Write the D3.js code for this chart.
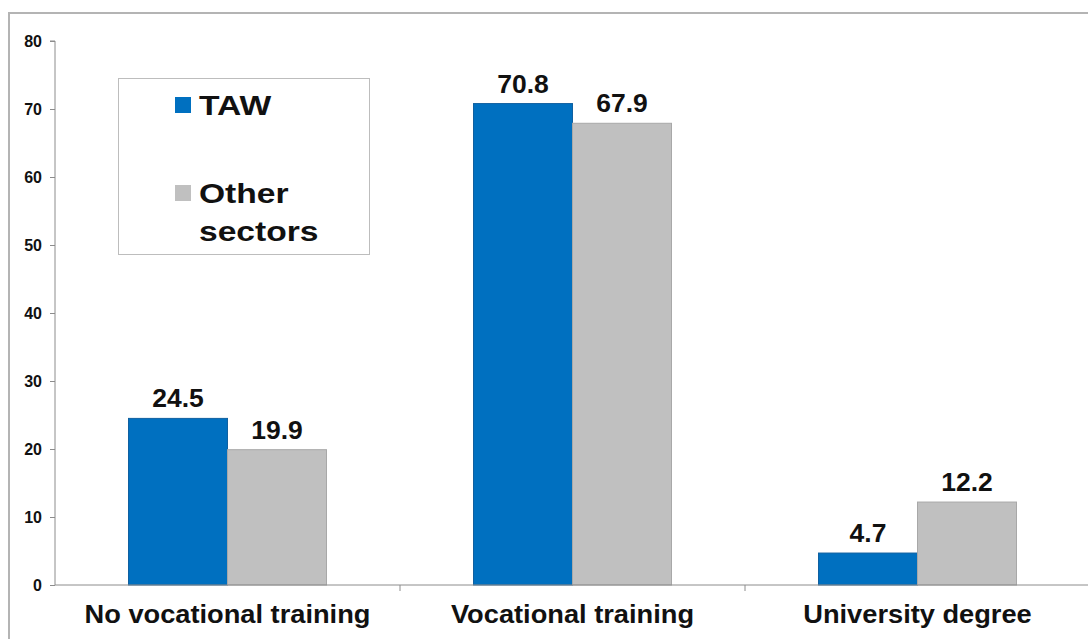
<!DOCTYPE html>
<html>
<head>
<meta charset="utf-8">
<script src="https://cdn.jsdelivr.net/npm/d3@7"></script>
<style>
  body { margin: 0; background: #fff; }
  svg { display: block; font-family: "Liberation Sans", Arial, sans-serif; }
</style>
</head>
<body>
<div id="chart"></div>
<script>

// data
var categories = ["No vocational training", "Vocational training", "University degree"];
var series = ["TAW", "Other sectors"];
var tawValues = [24.5, 70.8, 4.7];
var otherValues = [19.9, 67.9, 12.2];
var yTicks = [0, 10, 20, 30, 40, 50, 60, 70, 80];

var w = 1088;
var h = 639;
var margin = {left: 55, top: 41, bottom: 54};
var colors = ["#0070C0", "#C0C0C0"];
var strokes = ["#1060a0", "#a8a8a8"];

//helper: place text with a slight horizontal stretch (source font is wider)
var place = (px, py, sx) => "translate(" + px + "," + py + ") scale(" + sx + ",1)";

var svg = d3.select("#chart")
    .append("svg")
    .attr("width", w)
    .attr("height", h);

// outer frame (runs off the right and bottom edges)
svg.append("rect")
    .attr("x", 9)
    .attr("y", 13)
    .attr("width", w + 20)
    .attr("height", h + 20)
    .style("fill", "white")
    .style("stroke", "#b4b4b4")
    .style("stroke-width", 2);

//Scales
var x = d3.scaleBand()
    .domain(categories)
    .range([margin.left, margin.left + 345 * 3]);

var xInner = d3.scaleBand()
    .domain(series)
    .range([0, 198]);

var y = d3.scaleLinear()
    .domain([0, 80])
    .range([h - margin.bottom, margin.top]);

//Y axis
var yAxis = svg.append("g")
    .attr("transform", "translate(" + margin.left + ",0)")
    .call(d3.axisLeft(y).tickValues(yTicks).tickSize(5).tickPadding(8));

yAxis.select(".domain").attr("stroke", "#8c8c8c").attr("d", "M-5," + y(80) + "H0V" + y(0));
yAxis.selectAll(".tick line").attr("stroke", "#8c8c8c");
yAxis.selectAll("text")
    .style("font-size", "16px")
    .style("font-weight", "bold")
    .style("font-family", "\"Liberation Sans\", Arial, sans-serif")
    .style("fill", "#111");

//Bars
var rows = categories.map((c, i) => ({cat: c, vals: [tawValues[i], otherValues[i]]}));

var groups = svg.append("g")
    .selectAll("g")
    .data(rows)
    .enter()
    .append("g")
    .attr("transform", d => "translate(" + (x(d.cat) + (x.bandwidth() - 198) / 2) + ",0)");

groups.selectAll("rect")
    .data(d => d.vals.map((v, j) => ({s: series[j], v: v, j: j})))
    .enter()
    .append("rect")
    .attr("x", d => xInner(d.s))
    .attr("y", d => y(d.v))
    .attr("width", xInner.bandwidth())
    .attr("height", d => y(0) - y(d.v))
    .style("fill", d => colors[d.j])
    .style("stroke", d => strokes[d.j])
    .style("stroke-width", 1);

groups.selectAll("text")
    .data(d => d.vals.map((v, j) => ({s: series[j], v: v})))
    .enter()
    .append("text")
    .attr("transform", d => place(xInner(d.s) + xInner.bandwidth() / 2, y(d.v) - 11, 1.06))
    .attr("text-anchor", "middle")
    .style("font-size", "25px")
    .style("font-weight", "bold")
    .style("fill", "#111")
    .text(d => d3.format(".1f")(d.v));

//X axis
var xAxis = svg.append("g")
    .attr("transform", "translate(0," + y(0) + ")");

xAxis.append("line")
    .attr("x1", margin.left)
    .attr("x2", w)
    .attr("stroke", "#8c8c8c");

xAxis.selectAll("line.tk")
    .data(categories.slice(1))
    .enter()
    .append("line")
    .attr("class", "tk")
    .attr("x1", d => x(d))
    .attr("x2", d => x(d))
    .attr("y1", 0)
    .attr("y2", 6)
    .attr("stroke", "#8c8c8c");

xAxis.selectAll("text")
    .data(categories)
    .enter()
    .append("text")
    .attr("transform", d => place(x(d) + x.bandwidth() / 2, 38, 1.09))
    .attr("text-anchor", "middle")
    .style("font-size", "25px")
    .style("font-weight", "bold")
    .style("fill", "#111")
    .text(d => d);

//Legend
var legend = svg.append("g").attr("class", "legend");

legend.append("rect")
    .attr("x", 118.5)
    .attr("y", 78.5)
    .attr("width", 251)
    .attr("height", 176)
    .style("fill", "white")
    .style("stroke", "#bdbdbd");

var lgLines = [["TAW"], ["Other", "sectors"]];
var lgTop = [97, 185];

lgLines.forEach(function(lines, i) {
    legend.append("rect")
        .attr("x", 175)
        .attr("y", lgTop[i])
        .attr("width", 16)
        .attr("height", 16)
        .style("fill", colors[i]);

    lines.forEach(function(t, k) {
        legend.append("text")
            .attr("transform", place(199, lgTop[i] + 18 + k * 38, 1.2))
            .style("font-size", "28px")
            .style("font-weight", "bold")
            .style("fill", "#111")
            .text(t);
    });
});

</script>
</body>
</html>
